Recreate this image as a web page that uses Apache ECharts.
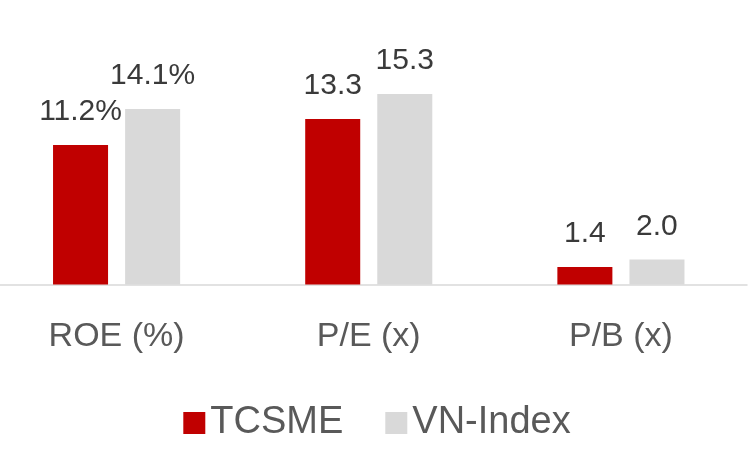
<!DOCTYPE html>
<html>
<head>
<meta charset="utf-8">
<script src="https://cdn.jsdelivr.net/npm/echarts@6/dist/echarts.min.js"></script>
<style>html,body{margin:0;padding:0;background:#fff;}#c{width:754px;height:460px;}</style>
</head>
<body>
<div id="c"></div>
<script>
const categories = ['ROE (%)', 'P/E (x)', 'P/B (x)'];
const tcsme = [11.2, 13.3, 1.4];
const vnIndex = [14.1, 15.3, 2.0];
const labelTexts = {
  TCSME: ['11.2%', '13.3', '1.4'],
  'VN-Index': ['14.1%', '15.3', '2.0']
};
const FONT = '"Liberation Sans", Arial, sans-serif';
const chart = echarts.init(document.getElementById('c'));
function mkSeries(name, data, color) {
  return {
    name: name,
    type: 'bar',
    data: data,
    barGap: '31%',
    barCategoryGap: '49.6%',
    itemStyle: { color: color },
    label: {
      show: true,
      position: 'top',
      distance: 18,
      fontFamily: FONT,
      fontSize: 30,
      color: '#3a3a3a',
      formatter: p => labelTexts[name][p.dataIndex]
    }
  };
}
chart.setOption({
  animation: false,
  grid: { left: -9.5, right: 7, top: 35.5, bottom: 175.5, containLabel: false, outerBoundsMode: 'none' },
  legend: {
    bottom: 13,
    left: 'center',
    itemWidth: 22,
    itemHeight: 22,
    itemGap: 42,
    icon: 'rect',
    textStyle: { fontFamily: FONT, fontSize: 38, color: '#595959' },
    data: ['TCSME', 'VN-Index']
  },
  xAxis: {
    type: 'category',
    data: categories,
    axisLine: { lineStyle: { color: '#d9d9d9', width: 1.5 } },
    axisTick: { show: false },
    axisLabel: { fontFamily: FONT, fontSize: 34, color: '#595959', margin: 35 }
  },
  yAxis: {
    type: 'value',
    min: 0,
    max: 20,
    show: false,
    splitLine: { show: false }
  },
  series: [
    mkSeries('TCSME', tcsme, '#c00000'),
    mkSeries('VN-Index', vnIndex, '#d9d9d9')
  ]
});
</script>
</body>
</html>
